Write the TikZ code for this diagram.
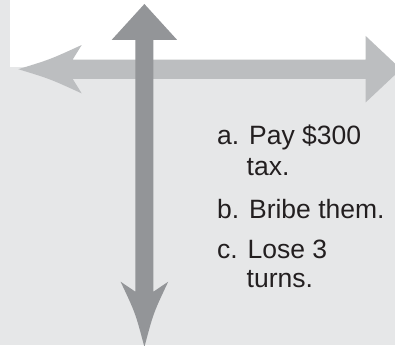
\documentclass[tikz,border=0pt]{standalone}
\usepackage{fontspec}
\setmainfont{Liberation Sans}
\definecolor{bgray}{HTML}{E6E7E8}
\definecolor{hgray}{HTML}{BCBEC0}
\definecolor{vgray}{HTML}{939598}
\definecolor{txt}{HTML}{231F20}
\begin{document}
\begin{tikzpicture}[x=1pt,y=-1pt,
  item/.style={anchor=base west,inner sep=0pt,text=txt,font=\fontsize{26.5}{30}\selectfont}]
\useasboundingbox (0,0) rectangle (395,345);
\clip (0,0) rectangle (395,345);
% background
\fill[white] (0,0) rectangle (395,345);
\fill[bgray] (0,67.3) rectangle (395,345);
\fill[bgray] (0,0) rectangle (10,345);
% horizontal arrow
\fill[hgray] (18.3,69.2) .. controls (50,59.5) .. (81.7,45)
  -- (72.7,59.5) -- (365.7,59.5) -- (365.7,36) -- (401,69.2)
  -- (365.7,102.4) -- (365.7,78.9) -- (72.7,78.9) -- (81.7,93.4)
  .. controls (50,78.9) .. cycle;
% vertical arrow
\fill[vgray] (144.4,4) -- (177.2,40) -- (153.4,40) -- (153.4,291.7)
  -- (168.2,281.7) .. controls (153.4,313) .. (144.4,347)
  .. controls (135.4,313) .. (120.6,281.7) -- (135.4,291.7)
  -- (135.4,40) -- (111.6,40) -- cycle;
% text
\node[item] (a1) at (217,144.7) {a. Pay \$300};
\node[item] (a2) at (246.5,175) {tax.};
\node[item] (b1) at (217,218.3) {b. Bribe them.};
\node[item] (c1) at (217,258.3) {c. Lose 3};
\node[item] (c2) at (246.5,287) {turns.};
\end{tikzpicture}
\end{document}
